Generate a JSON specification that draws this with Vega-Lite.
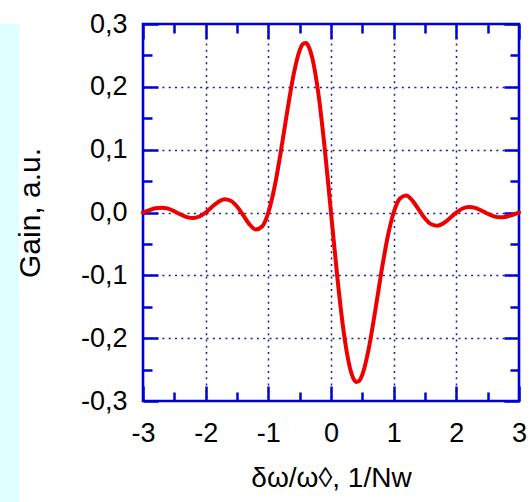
{
  "$schema": "https://vega.github.io/schema/vega-lite/v6.json",
  "padding": 0,
  "background": "white",
  "spacing": -5,
  "config": {"font": "Liberation Sans"},
  "hconcat": [
    {
      "width": 19,
      "height": 502,
      "data": {"values": [{"k": 1}]},
      "mark": {"type": "rect", "color": "#e0ffff"},
      "view": {"stroke": null, "fill": "#e0ffff"}
    },
    {
      "width": 376,
      "height": 377,
      "view": {"stroke": "#0000d8", "strokeWidth": 2.6},
      "data": {
        "values": [
          {"x": -3, "g": 0}, {"x": -2.9, "g": 0.00367}, {"x": -2.8, "g": 0.00665}, {"x": -2.7, "g": 0.00768},
          {"x": -2.6, "g": 0.00607}, {"x": -2.5, "g": 0.00206}, {"x": -2.4, "g": -0.00306}, {"x": -2.3, "g": -0.00737},
          {"x": -2.2, "g": -0.00891}, {"x": -2.1, "g": -0.00642}, {"x": -2, "g": 0}, {"x": -1.9, "g": 0.0087},
          {"x": -1.8, "g": 0.01678}, {"x": -1.7, "g": 0.02097}, {"x": -1.6, "g": 0.01875}, {"x": -1.5, "g": 0.00956},
          {"x": -1.4, "g": -0.00456}, {"x": -1.3, "g": -0.0189}, {"x": -1.2, "g": -0.02701}, {"x": -1.1, "g": -0.0223},
          {"x": -1, "g": 0}, {"x": -0.9, "g": 0.04099}, {"x": -0.8, "g": 0.09705}, {"x": -0.7, "g": 0.15987},
          {"x": -0.6, "g": 0.21777}, {"x": -0.5, "g": 0.25801}, {"x": -0.45, "g": 0.26796}, {"x": -0.4, "g": 0.26969},
          {"x": -0.35, "g": 0.26262}, {"x": -0.3, "g": 0.24646}, {"x": -0.2, "g": 0.18832}, {"x": -0.1, "g": 0.10196},
          {"x": 0, "g": 0},
          {"x": 0.1, "g": -0.10196}, {"x": 0.2, "g": -0.18832}, {"x": 0.3, "g": -0.24646}, {"x": 0.35, "g": -0.26262},
          {"x": 0.4, "g": -0.26969}, {"x": 0.45, "g": -0.26796}, {"x": 0.5, "g": -0.25801}, {"x": 0.6, "g": -0.21777},
          {"x": 0.7, "g": -0.15987}, {"x": 0.8, "g": -0.09705}, {"x": 0.9, "g": -0.04099}, {"x": 1, "g": 0},
          {"x": 1.1, "g": 0.0223}, {"x": 1.2, "g": 0.02701}, {"x": 1.3, "g": 0.0189}, {"x": 1.4, "g": 0.00456},
          {"x": 1.5, "g": -0.00956}, {"x": 1.6, "g": -0.01875}, {"x": 1.7, "g": -0.02097}, {"x": 1.8, "g": -0.01678},
          {"x": 1.9, "g": -0.0087}, {"x": 2, "g": 0}, {"x": 2.1, "g": 0.00642}, {"x": 2.2, "g": 0.00891},
          {"x": 2.3, "g": 0.00737}, {"x": 2.4, "g": 0.00306}, {"x": 2.5, "g": -0.00206}, {"x": 2.6, "g": -0.00607},
          {"x": 2.7, "g": -0.00768}, {"x": 2.8, "g": -0.00665}, {"x": 2.9, "g": -0.00367}, {"x": 3, "g": 0}
        ]
      },
      "resolve": {"axis": {"x": "independent", "y": "independent"}},
      "layer": [
        {
          "mark": {"type": "line", "color": "#ee0000", "strokeWidth": 4, "interpolate": "monotone", "strokeCap": "round", "strokeJoin": "round"},
          "encoding": {
            "x": {
              "field": "x", "type": "quantitative",
              "scale": {"domain": [-3, 3], "nice": false, "zero": false},
              "axis": {
                "orient": "bottom", "values": [-3, -2, -1, 0, 1, 2, 3],
                "ticks": false, "domain": false,
                "grid": true, "gridColor": "#1a1aa0", "gridDash": [2, 4.3], "gridWidth": 1.5,
                "gridOpacity": {"condition": {"test": "abs(datum.value) > 2.9", "value": 0}, "value": 1},
                "labelExpr": "'' + datum.value",
                "labelFont": "Liberation Sans", "labelFontSize": 27, "labelColor": "black", "labelPadding": 19,
                "labelOverlap": false, "labelFlush": false,
                "title": "δω/ω◊, 1/Nw", "titleFont": "Liberation Sans", "titleFontSize": 28,
                "titleFontWeight": "normal", "titleColor": "black", "titlePadding": 18
              }
            },
            "y": {
              "field": "g", "type": "quantitative",
              "scale": {"domain": [-0.3, 0.3], "nice": false, "zero": false},
              "axis": {
                "orient": "left", "values": [-0.3, -0.2, -0.1, 0, 0.1, 0.2, 0.3],
                "ticks": false, "domain": false,
                "grid": true, "gridColor": "#1a1aa0", "gridDash": [2, 4.3], "gridWidth": 1.5,
                "gridOpacity": {"condition": {"test": "abs(datum.value) > 0.29", "value": 0}, "value": 1},
                "labelExpr": "(datum.value < 0 ? '-' : '') + replace(format(abs(datum.value), '.1f'), '.', ',')",
                "labelFont": "Liberation Sans", "labelFontSize": 27, "labelColor": "black", "labelPadding": 16,
                "labelOverlap": false, "labelFlush": false,
                "title": "Gain, a.u.", "titleFont": "Liberation Sans", "titleFontSize": 30,
                "titleFontWeight": "normal", "titleColor": "black", "titlePadding": 35
              }
            }
          }
        },
        {
          "mark": {"type": "line", "strokeOpacity": 0},
          "encoding": {
            "x": {
              "field": "x", "type": "quantitative",
              "axis": {
                "orient": "bottom",
                "values": [-3, -2.5, -2, -1.5, -1, -0.5, 0, 0.5, 1, 1.5, 2, 2.5, 3],
                "labels": false, "grid": false, "domain": false, "title": null,
                "tickColor": "#0000d8", "tickWidth": 2.5,
                "tickSize": {"condition": {"test": "abs(datum.value - round(datum.value)) < 0.001", "value": -15}, "value": -9}
              }
            },
            "y": {
              "field": "g", "type": "quantitative",
              "axis": {
                "orient": "left",
                "values": [-0.3, -0.25, -0.2, -0.15, -0.1, -0.05, 0, 0.05, 0.1, 0.15, 0.2, 0.25, 0.3],
                "labels": false, "grid": false, "domain": false, "title": null,
                "tickColor": "#0000d8", "tickWidth": 2.5,
                "tickSize": {"condition": {"test": "abs(datum.value * 10 - round(datum.value * 10)) < 0.001", "value": -15}, "value": -9}
              }
            }
          }
        },
        {
          "mark": {"type": "line", "strokeOpacity": 0},
          "encoding": {
            "x": {
              "field": "x", "type": "quantitative",
              "axis": {
                "orient": "top",
                "values": [-3, -2.5, -2, -1.5, -1, -0.5, 0, 0.5, 1, 1.5, 2, 2.5, 3],
                "labels": false, "grid": false, "domain": false,
                "title": " ", "titleFontSize": 9, "titlePadding": 12, "titleOpacity": 0,
                "tickColor": "#0000d8", "tickWidth": 2.5,
                "tickSize": {"condition": {"test": "abs(datum.value - round(datum.value)) < 0.001", "value": -15}, "value": -9}
              }
            },
            "y": {
              "field": "g", "type": "quantitative",
              "axis": {
                "orient": "right",
                "values": [-0.3, -0.25, -0.2, -0.15, -0.1, -0.05, 0, 0.05, 0.1, 0.15, 0.2, 0.25, 0.3],
                "labels": false, "grid": false, "domain": false, "title": null,
                "tickColor": "#0000d8", "tickWidth": 2.5,
                "tickSize": {"condition": {"test": "abs(datum.value * 10 - round(datum.value * 10)) < 0.001", "value": -15}, "value": -9}
              }
            }
          }
        }
      ]
    }
  ]
}
